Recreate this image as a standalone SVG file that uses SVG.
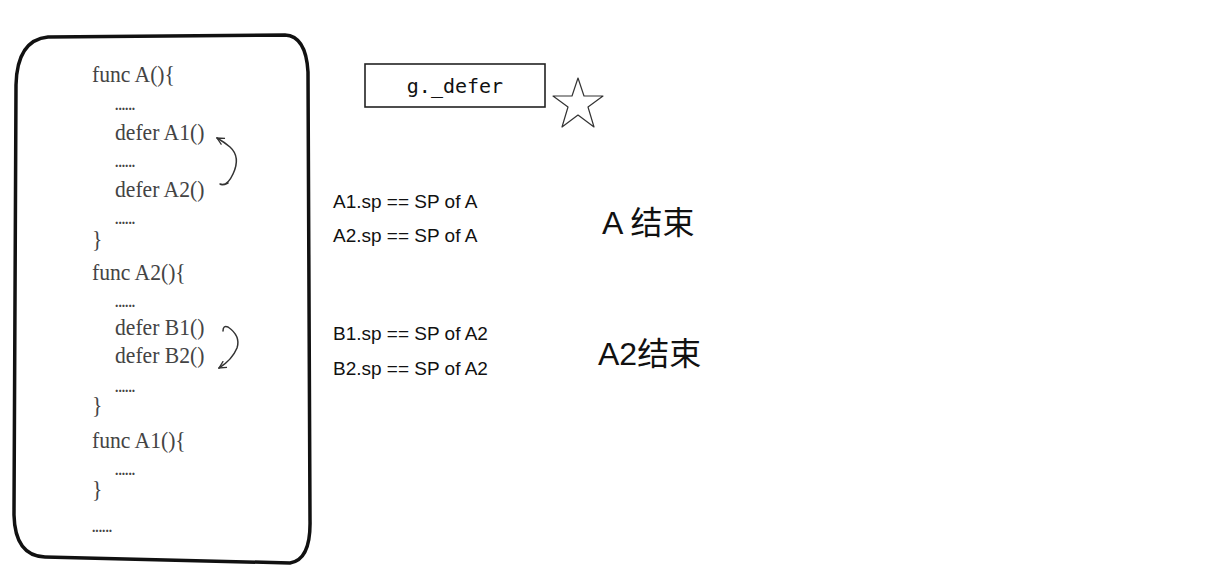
<svg xmlns="http://www.w3.org/2000/svg" width="1227" height="587" viewBox="0 0 1227 587">
<defs>
<style>
.code{font-family:"Liberation Serif",serif;font-size:24px;fill:#444;}
.dots{font-family:"Liberation Serif",serif;font-size:15px;fill:#444;font-weight:bold;}
.hand{font-family:"Liberation Sans","Noto Sans CJK SC",sans-serif;font-size:19px;fill:#111;}
.big{font-family:"Liberation Sans","Noto Sans CJK SC",sans-serif;font-size:32px;fill:#111;}
.curve{fill:none;stroke:#333;stroke-width:1.5;stroke-linecap:round;stroke-linejoin:round;}
</style>
<marker id="ah" viewBox="0 0 10 10" refX="9" refY="5" markerWidth="9" markerHeight="9" orient="auto" markerUnits="userSpaceOnUse">
<path d="M1,1 L9,5 L1,9" fill="none" stroke="#333" stroke-width="1.4"/>
</marker>
</defs>
<rect width="1227" height="587" fill="#fff"/>
<g id="code-panel">
<path d="M48,37 L285,35 Q306,36 308,72 L310,520 Q311,560 290,563 L45,557 Q15,556 14,515 L16,85 Q17,40 48,37 Z" fill="#fff" stroke="#111" stroke-width="3.5" stroke-linejoin="round"/>
<g transform="scale(0.9,1)">
<text class="code" x="102.2" y="82">func A(){</text>
<text class="dots" x="127.8" y="110">......</text>
<text class="code" x="127.8" y="140">defer A1()</text>
<text class="dots" x="127.8" y="167">......</text>
<text class="code" x="127.8" y="197">defer A2()</text>
<text class="dots" x="127.8" y="224">......</text>
<text class="code" x="102.2" y="247">}</text>
<text class="code" x="102.2" y="280">func A2(){</text>
<text class="dots" x="127.8" y="307">......</text>
<text class="code" x="127.8" y="335">defer B1()</text>
<text class="code" x="127.8" y="363">defer B2()</text>
<text class="dots" x="127.8" y="392">......</text>
<text class="code" x="102.2" y="413">}</text>
<text class="code" x="102.2" y="448">func A1(){</text>
<text class="dots" x="127.8" y="475">......</text>
<text class="code" x="102.2" y="497">}</text>
<text class="dots" x="102.2" y="532">......</text>
</g>
</g>
<g id="connectors">
<path class="curve" d="M228,183 Q222,186 220,184 Q227,187 233,174 Q241,157 230,147 Q224,142 217,138" marker-end="url(#ah)"/>
<path class="curve" d="M223,331 Q223,325 228,327 Q241,336 237,348 Q232,360 219,368" marker-end="url(#ah)"/>
</g>
<g id="g-defer">
<rect x="365" y="64" width="180" height="43" fill="#fff" stroke="#222" stroke-width="1.6"/>
<text x="455" y="93" text-anchor="middle" style="font-family:'DejaVu Sans Mono',monospace;font-size:20px;fill:#111;">g._defer</text>
</g>
<g id="star">
<path d="M578,78 L584,96 L603,96 L588,107 L594,127 L578,115 L562,127 L568,107 L553,96 L572,96 Z" fill="#fff" stroke="#333" stroke-width="1.2" stroke-linejoin="round"/>
</g>
<g id="notes">
<text class="hand" x="333" y="208">A1.sp == SP of A</text>
<text class="hand" x="333" y="242">A2.sp == SP of A</text>
<text class="hand" x="333" y="340">B1.sp == SP of A2</text>
<text class="hand" x="333" y="375">B2.sp == SP of A2</text>
<text class="big" x="602" y="234">A 结束</text>
<text class="big" x="598" y="365">A2结束</text>
</g>
</svg>
